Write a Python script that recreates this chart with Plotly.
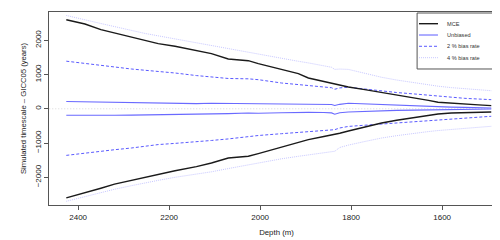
import plotly.graph_objects as go

depth = [2426, 2385, 2350, 2320, 2283, 2253, 2224, 2187, 2140, 2107, 2070, 2026, 2004,
         1953, 1916, 1894, 1860, 1843, 1836, 1825, 1806, 1770, 1733, 1700, 1660, 1630,
         1609, 1580, 1550, 1520, 1492]

mce_upper = [2600, 2476, 2310, 2213, 2088, 2000, 1901, 1825, 1705, 1609, 1454, 1404, 1320,
             1142, 1025, 899, 800, 753, 735, 700, 636, 560, 482, 410, 315, 245,
             190, 160, 140, 115, 91]
mce_lower = [-2600, -2460, -2320, -2200, -2088, -1995, -1910, -1810, -1690, -1582, -1436, -1387, -1311,
             -1115, -990, -902, -810, -774, -755, -715, -650, -530, -415, -335, -248, -190,
             -152, -125, -110, -100, -93]
unb_upper = [215, 205, 195, 190, 185, 180, 172, 165, 150, 160, 155, 169, 160,
             150, 140, 135, 130, 125, 95, 130, 160, 140, 120, 105, 91, 75,
             61, 50, 40, 30, 23]
unb_lower = [-190, -195, -188, -190, -185, -180, -170, -160, -145, -160, -140, -123, -130,
             -115, -102, -105, -110, -120, -160, -115, -95, -75, -55, -45, -38, -30,
             -26, -20, -14, -10, -6]
b2_upper = [1390, 1320, 1262, 1215, 1162, 1125, 1092, 1045, 970, 930, 885, 875, 850,
            753, 705, 675, 635, 615, 570, 610, 630, 570, 511, 475, 432, 395,
            365, 330, 305, 285, 266]
b2_lower = [-1360, -1290, -1232, -1195, -1145, -1090, -1045, -1010, -970, -925, -880, -800, -780,
            -727, -690, -670, -635, -620, -610, -560, -515, -480, -444, -405, -365, -335,
            -318, -292, -265, -240, -219]
b4_upper = [2725, 2590, 2490, 2400, 2280, 2200, 2130, 2040, 1930, 1850, 1745, 1640, 1595,
            1475, 1387, 1340, 1250, 1212, 1150, 1160, 1150, 1030, 920, 840, 753, 700,
            660, 618, 585, 555, 528]
b4_lower = [-2700, -2560, -2440, -2350, -2245, -2160, -2090, -2000, -1912, -1840, -1745, -1630, -1575,
            -1460, -1387, -1345, -1280, -1241, -1240, -1130, -1060, -955, -853, -785, -707, -665,
            -635, -600, -570, -540, -511]

x_ticks = [2400, 2200, 2000, 1800, 1600]
y_ticks = [-2000, -1000, 0, 1000, 2000]

legend_labels = ["MCE", "Unbiased", "2 % bias rate", "4 % bias rate"]

FONT = "Liberation Sans, Arial, Helvetica, sans-serif"
C_MCE = "#1a1a1a"
C_UNB = "#6a6aff"
C_B2 = "#5a5aff"
C_B4 = "#c8c8ff"

styles = {
    "MCE": dict(color=C_MCE, width=1.4, dash="solid"),
    "Unbiased": dict(color=C_UNB, width=1.1, dash="solid"),
    "2 % bias rate": dict(color=C_B2, width=1.0, dash="3px,2px"),
    "4 % bias rate": dict(color=C_B4, width=1.0, dash="1px,1px"),
}

fig = go.Figure()

# zero reference line
fig.add_trace(go.Scatter(x=[2470, 1460], y=[0, 0], mode="lines",
                         line=dict(color="#d8d8d8", width=1, dash="1px,2px"),
                         hoverinfo="skip", showlegend=False))

series = [
    ("4 % bias rate", b4_upper), ("4 % bias rate", b4_lower),
    ("2 % bias rate", b2_upper), ("2 % bias rate", b2_lower),
    ("Unbiased", unb_upper), ("Unbiased", unb_lower),
    ("MCE", mce_upper), ("MCE", mce_lower),
]
for name, vals in series:
    fig.add_trace(go.Scatter(x=depth, y=vals, mode="lines", name=name,
                             line=styles[name], showlegend=False))

# manual legend (R-style)
shapes = [dict(type="rect", xref="paper", yref="paper", x0=0.809, x1=0.9956,
               y0=0.7047, y1=0.9948, line=dict(color="#555555", width=1),
               fillcolor="white", layer="above")]
annotations = []
leg_y = [0.9394, 0.8808, 0.8223, 0.7632]
for lab, yy in zip(legend_labels, leg_y):
    st = styles[lab]
    shapes.append(dict(type="line", xref="paper", yref="paper", x0=0.8132, x1=0.8549,
                       y0=yy, y1=yy, layer="above",
                       line=dict(color=st["color"], width=st["width"], dash=st["dash"])))
    annotations.append(dict(xref="paper", yref="paper", x=0.8703, y=yy, text=lab,
                            showarrow=False, xanchor="left", yanchor="middle",
                            font=dict(family=FONT, size=5.6, color="#333333")))

fig.update_layout(
    width=500, height=240,
    margin=dict(l=41, r=4, t=4, b=43),
    paper_bgcolor="white", plot_bgcolor="white",
    font=dict(family=FONT, size=8, color="#222222"),
    showlegend=False,
    shapes=shapes, annotations=annotations,
)
fig.update_xaxes(range=[2464, 1464], tickvals=x_ticks, ticks="outside", ticklen=4,
                 tickcolor="#555555", showgrid=False, zeroline=False,
                 showline=True, linecolor="#555555", linewidth=1, mirror=True,
                 tickfont=dict(size=8, family=FONT),
                 title=dict(text="Depth (m)", font=dict(size=7.8, family=FONT), standoff=8))
fig.update_yaxes(range=[-2809, 2826], tickvals=y_ticks, ticks="outside", ticklen=4,
                 tickcolor="#555555", showgrid=False, zeroline=False, tickangle=-90,
                 showline=True, linecolor="#555555", linewidth=1, mirror=True,
                 tickfont=dict(size=8, family=FONT),
                 title=dict(text="Simulated timescale – GICC05 (years)",
                            font=dict(size=7.7, family=FONT), standoff=6))

fig.write_html("out.html")
